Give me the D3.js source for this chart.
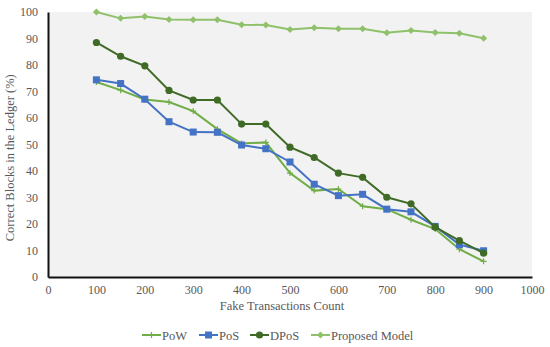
<!DOCTYPE html>
<html>
<head>
<meta charset="utf-8">
<script src="https://cdn.jsdelivr.net/npm/d3@7"></script>
<style>
body { margin: 0; background: #fff; }
text { font-family: "Liberation Serif", "Times New Roman", serif; fill: #595959; }
</style>
</head>
<body>
<div class="chart"></div>
<script>
// values
var txCounts = [100, 150, 200, 250, 300, 350, 400, 450, 500, 550, 600, 650, 700, 750, 800, 850, 900];
var pow = [73.6, 70.5, 67, 66, 62.6, 55.8, 50.4, 50.8, 39.2, 32.6, 33.2, 26.7, 25.6, 21.6, 18.1, 10.5, 5.9];
var pos = [74.4, 73, 67.1, 58.6, 54.7, 54.6, 49.8, 48.4, 43.4, 35, 30.7, 31.2, 25.6, 24.6, 19.1, 12.2, 9.9];
var dpos = [88.5, 83.3, 79.7, 70.4, 66.8, 66.8, 57.7, 57.7, 49, 45.1, 39.2, 37.6, 30.1, 27.6, 18.8, 13.7, 9.0];
var proposed = [100, 97.6, 98.3, 97.2, 97.1, 97.1, 95.2, 95.1, 93.4, 94.1, 93.7, 93.7, 92.2, 93, 92.3, 92, 90.1];
var xTicks = [0, 100, 200, 300, 400, 500, 600, 700, 800, 900, 1000];
var yTicks = [0, 10, 20, 30, 40, 50, 60, 70, 80, 90, 100];

var series = [
  {name: "PoW", values: pow, color: "#70ad47", marker: "plus"},
  {name: "PoS", values: pos, color: "#4472c4", marker: "square"},
  {name: "DPoS", values: dpos, color: "#3f6b27", marker: "circle"},
  {name: "Proposed Model", values: proposed, color: "#8fc16b", marker: "diamond"}
];

var W = 550, H = 347;
var margin = {top: 12, right: 18, bottom: 70, left: 48};
var width = W - margin.left - margin.right,
    height = H - margin.top - margin.bottom;

var svg = d3.select(".chart").append("svg")
    .attr("width", W).attr("height", H);

var g = svg.append("g")
    .attr("transform", "translate(" + margin.left + "," + margin.top + ")");

var x = d3.scaleLinear().domain([0, 1000]).range([0, width]);
var y = d3.scaleLinear().domain([0, 100]).range([height, 0]);

// plot background
g.append("rect").attr("width", width).attr("height", height).attr("fill", "#f2f2f2");

// axes
var xAxis = g.append("g").attr("transform", "translate(0," + height + ")")
    .call(d3.axisBottom(x).tickValues(xTicks).tickFormat(d3.format("d")).tickSize(0).tickPadding(8));
var yAxis = g.append("g")
    .call(d3.axisLeft(y).tickValues(yTicks).tickFormat(d3.format("d")).tickSize(0).tickPadding(10));
[xAxis, yAxis].forEach(function(a) {
  a.select(".domain").attr("stroke", "#111").attr("stroke-width", 2);
  a.selectAll("text").attr("font-size", 12).attr("font-family", "Liberation Serif").attr("fill", "#595959");
});

svg.append("text")
    .attr("x", margin.left + x(500) - 8).attr("y", 310)
    .attr("text-anchor", "middle").attr("font-size", 12.5)
    .text("Fake Transactions Count");

svg.append("text")
    .attr("transform", "translate(14," + (margin.top + y(45)) + ") rotate(-90)")
    .attr("text-anchor", "middle").attr("font-size", 12.5)
    .text("Correct Blocks in the Ledger (%)");

var line = d3.line()
    .x(function(d, i) { return x(txCounts[i]); })
    .y(function(d) { return y(d); });

function drawMarker(sel, type, color) {
  if (type == "square") {
    sel.append("rect").attr("x", -3.5).attr("y", -3.5).attr("width", 7).attr("height", 7).attr("fill", color);
  } else if (type == "circle") {
    sel.append("circle").attr("r", 3.6).attr("fill", color);
  } else if (type == "diamond") {
    sel.append("path").attr("d", "M0,-3.5L3.5,0L0,3.5L-3.5,0Z").attr("fill", color);
  } else {
    sel.append("path").attr("d", "M-3,0H3M0,-3V3").attr("stroke", color).attr("stroke-width", 1.2);
  }
}

series.forEach(function(s) {
  g.append("path").datum(s.values)
    .attr("fill", "none").attr("stroke", s.color).attr("stroke-width", 2)
    .attr("d", line);
  g.selectAll(null).data(s.values).enter().append("g")
    .attr("transform", function(d, i) { return "translate(" + x(txCounts[i]) + "," + y(d) + ")"; })
    .each(function() { drawMarker(d3.select(this), s.marker, s.color); });
});

// legend
var legendX = [142, 199, 250, 311];
var legend = svg.append("g").attr("transform", "translate(0,335)");
series.forEach(function(s, i) {
  var lg = legend.append("g").attr("transform", "translate(" + legendX[i] + ",0)");
  lg.append("line").attr("x1", 0).attr("x2", 19).attr("stroke", s.color).attr("stroke-width", 2);
  var m = lg.append("g").attr("transform", "translate(9.5,0)");
  drawMarker(m, s.marker, s.color);
  lg.append("text").attr("x", 20).attr("y", 4.5).attr("font-size", 12.5).text(s.name);
});
</script>
</body>
</html>
